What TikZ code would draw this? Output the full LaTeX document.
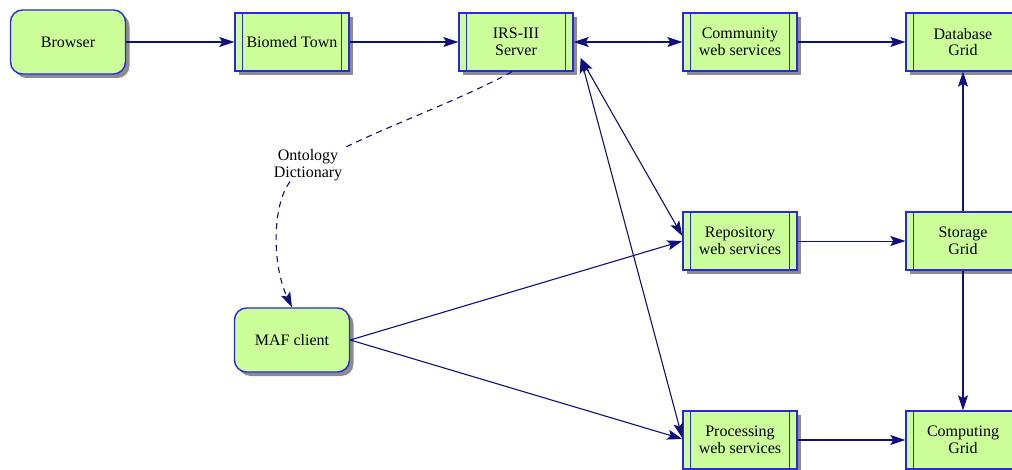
\documentclass[tikz,border=0pt]{standalone}
\usepackage{fontspec}
\setmainfont{Liberation Serif}
\usetikzlibrary{arrows.meta,shadows}
\definecolor{nfill}{RGB}{204,255,153}
\definecolor{nbord}{RGB}{40,40,225}
\definecolor{edg}{RGB}{15,15,125}
\tikzset{
  box/.style={draw=nbord, fill=nfill, line width=1.4pt,
    drop shadow={shadow xshift=4pt, shadow yshift=-4pt, fill=black!45, opacity=1},
    font=\fontsize{16}{16.5}\selectfont, align=center, inner sep=0pt},
  rbox/.style={box, rounded corners=12pt, minimum width=115pt, minimum height=64pt},
  sbox/.style={box, minimum width=114pt, minimum height=58pt},
  tip/.tip={Stealth[length=15pt,width=10pt,inset=3pt]},
  conn/.style={draw=edg, line width=1.1pt, -tip},
  conn2/.style={draw=edg, line width=1.1pt, tip-tip},
  dsh/.style={draw=edg, line width=1.1pt, dash pattern=on 6pt off 5pt, -tip},
  lbl/.style={font=\fontsize{16}{16.5}\selectfont, align=center, inner sep=1pt}
}
\begin{document}
\begin{tikzpicture}[x=1pt,y=-1pt]
\clip (0,0) rectangle (1012,470);
\useasboundingbox (0,0) rectangle (1012,470);
\node[rbox] (browser) at (68,42) {Browser};
\node[sbox] (biomed) at (292,42) {Biomed Town};
\node[sbox] (irs) at (516,42) {IRS-III\\Server};
\node[sbox] (comm) at (740,42) {Community\\web services};
\node[sbox] (db) at (963,42) {Database\\Grid};
\node[sbox] (rep) at (740,241) {Repository\\web services};
\node[sbox] (stor) at (963,241) {Storage\\Grid};
\node[sbox] (proc) at (740,440) {Processing\\web services};
\node[sbox] (comp) at (963,440) {Computing\\Grid};
\node[rbox] (maf) at (292,340) {MAF client};
\node[lbl] (ont) at (308,165) {Ontology\\Dictionary};
\foreach \n in {biomed,irs,comm,db,rep,stor,proc,comp}{
  \draw[draw=nbord,line width=1.4pt] ([xshift=8pt]\n.north west) -- ([xshift=8pt]\n.south west)
    ([xshift=-8pt]\n.north east) -- ([xshift=-8pt]\n.south east);
}
\coordinate (irsx) at ([shift={(7,16)}]irs.east);
\draw[conn] (browser) -- (biomed);
\draw[conn] (biomed) -- (irs);
\draw[conn2] (irs) -- (comm);
\draw[conn] (comm) -- (db);
\draw[conn2] (irsx) -- ([yshift=5pt]rep.west);
\draw[conn2] (irsx) -- ([yshift=2pt]proc.west);
\draw[conn] (maf.east) -- (rep.west);
\draw[conn] (maf.east) -- ([yshift=1pt]proc.west);
\draw[conn, line width=0.6pt] (rep) -- (stor);
\draw[conn] (stor) -- (db);
\draw[conn] (stor) -- (comp);
\draw[conn] (proc) -- (comp);
\draw[dsh, -] ([xshift=-4pt]irs.south) .. controls (460,100) and (390,125) .. (ont.north east);
\draw[dsh] ([xshift=-18pt]ont.south) .. controls (272,205) and (272,265) .. (maf.north);
\end{tikzpicture}
\end{document}
